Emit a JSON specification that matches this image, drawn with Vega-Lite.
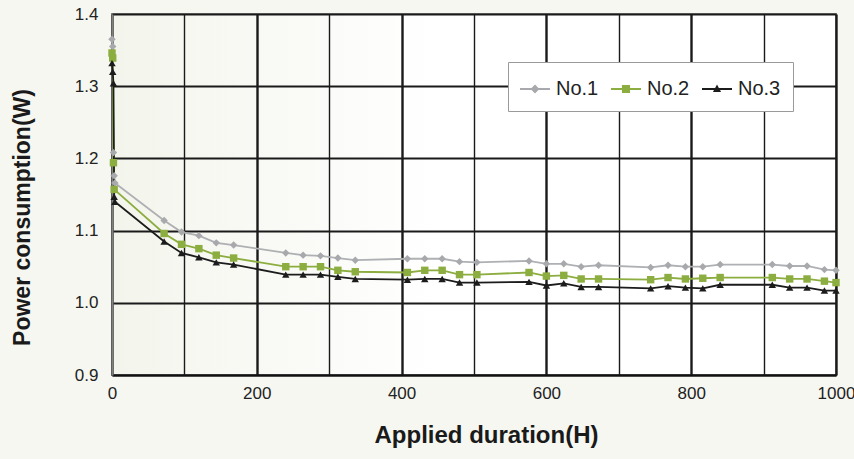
{
  "$schema": "https://vega.github.io/schema/vega-lite/v6.json",
  "width": 724,
  "height": 361,
  "autosize": "none",
  "padding": {"left": 112, "top": 14, "right": 18, "bottom": 84},
  "background": "#f6f7f1",
  "config": {
    "font": "Liberation Sans",
    "view": {
      "stroke": "#8a8a8a",
      "strokeWidth": 2,
      "fill": {"gradient": "linear", "x1": 0, "x2": 1, "y1": 0, "y2": 0,
        "stops": [{"offset": 0, "color": "#f3f5ec"}, {"offset": 0.45, "color": "#ffffff"}, {"offset": 1, "color": "#ffffff"}]}
    }
  },
  "data": {
    "values": [
      {"s": "No.1", "t": 0, "w": 1.365}, {"s": "No.1", "t": 1, "w": 1.355}, {"s": "No.1", "t": 2, "w": 1.208}, {"s": "No.1", "t": 3, "w": 1.176}, {"s": "No.1", "t": 4, "w": 1.166},
      {"s": "No.1", "t": 72, "w": 1.114}, {"s": "No.1", "t": 96, "w": 1.098}, {"s": "No.1", "t": 120, "w": 1.093}, {"s": "No.1", "t": 144, "w": 1.083}, {"s": "No.1", "t": 168, "w": 1.080},
      {"s": "No.1", "t": 240, "w": 1.069}, {"s": "No.1", "t": 264, "w": 1.066}, {"s": "No.1", "t": 288, "w": 1.065}, {"s": "No.1", "t": 312, "w": 1.062}, {"s": "No.1", "t": 336, "w": 1.059},
      {"s": "No.1", "t": 408, "w": 1.061}, {"s": "No.1", "t": 432, "w": 1.061}, {"s": "No.1", "t": 456, "w": 1.061}, {"s": "No.1", "t": 480, "w": 1.057}, {"s": "No.1", "t": 504, "w": 1.056},
      {"s": "No.1", "t": 576, "w": 1.058}, {"s": "No.1", "t": 600, "w": 1.054}, {"s": "No.1", "t": 624, "w": 1.054}, {"s": "No.1", "t": 648, "w": 1.050}, {"s": "No.1", "t": 672, "w": 1.052},
      {"s": "No.1", "t": 744, "w": 1.049}, {"s": "No.1", "t": 768, "w": 1.052}, {"s": "No.1", "t": 792, "w": 1.050}, {"s": "No.1", "t": 816, "w": 1.050}, {"s": "No.1", "t": 840, "w": 1.053},
      {"s": "No.1", "t": 912, "w": 1.053}, {"s": "No.1", "t": 936, "w": 1.051}, {"s": "No.1", "t": 960, "w": 1.051}, {"s": "No.1", "t": 984, "w": 1.046}, {"s": "No.1", "t": 1000, "w": 1.045},
      {"s": "No.2", "t": 0, "w": 1.346}, {"s": "No.2", "t": 1, "w": 1.339}, {"s": "No.2", "t": 2, "w": 1.194}, {"s": "No.2", "t": 3, "w": 1.157},
      {"s": "No.2", "t": 72, "w": 1.096}, {"s": "No.2", "t": 96, "w": 1.081}, {"s": "No.2", "t": 120, "w": 1.075}, {"s": "No.2", "t": 144, "w": 1.066}, {"s": "No.2", "t": 168, "w": 1.062},
      {"s": "No.2", "t": 240, "w": 1.050}, {"s": "No.2", "t": 264, "w": 1.050}, {"s": "No.2", "t": 288, "w": 1.050}, {"s": "No.2", "t": 312, "w": 1.045}, {"s": "No.2", "t": 336, "w": 1.043},
      {"s": "No.2", "t": 408, "w": 1.042}, {"s": "No.2", "t": 432, "w": 1.045}, {"s": "No.2", "t": 456, "w": 1.045}, {"s": "No.2", "t": 480, "w": 1.039}, {"s": "No.2", "t": 504, "w": 1.039},
      {"s": "No.2", "t": 576, "w": 1.042}, {"s": "No.2", "t": 600, "w": 1.037}, {"s": "No.2", "t": 624, "w": 1.038}, {"s": "No.2", "t": 648, "w": 1.033}, {"s": "No.2", "t": 672, "w": 1.033},
      {"s": "No.2", "t": 744, "w": 1.032}, {"s": "No.2", "t": 768, "w": 1.035}, {"s": "No.2", "t": 792, "w": 1.033}, {"s": "No.2", "t": 816, "w": 1.034}, {"s": "No.2", "t": 840, "w": 1.035},
      {"s": "No.2", "t": 912, "w": 1.035}, {"s": "No.2", "t": 936, "w": 1.033}, {"s": "No.2", "t": 960, "w": 1.033}, {"s": "No.2", "t": 984, "w": 1.030}, {"s": "No.2", "t": 1000, "w": 1.028},
      {"s": "No.3", "t": 0, "w": 1.332}, {"s": "No.3", "t": 1, "w": 1.320}, {"s": "No.3", "t": 2, "w": 1.304}, {"s": "No.3", "t": 3, "w": 1.147}, {"s": "No.3", "t": 4, "w": 1.140},
      {"s": "No.3", "t": 72, "w": 1.085}, {"s": "No.3", "t": 96, "w": 1.069}, {"s": "No.3", "t": 120, "w": 1.063}, {"s": "No.3", "t": 144, "w": 1.056}, {"s": "No.3", "t": 168, "w": 1.053},
      {"s": "No.3", "t": 240, "w": 1.039}, {"s": "No.3", "t": 264, "w": 1.039}, {"s": "No.3", "t": 288, "w": 1.039}, {"s": "No.3", "t": 312, "w": 1.036}, {"s": "No.3", "t": 336, "w": 1.033},
      {"s": "No.3", "t": 408, "w": 1.032}, {"s": "No.3", "t": 432, "w": 1.033}, {"s": "No.3", "t": 456, "w": 1.033}, {"s": "No.3", "t": 480, "w": 1.028}, {"s": "No.3", "t": 504, "w": 1.028},
      {"s": "No.3", "t": 576, "w": 1.029}, {"s": "No.3", "t": 600, "w": 1.024}, {"s": "No.3", "t": 624, "w": 1.027}, {"s": "No.3", "t": 648, "w": 1.022}, {"s": "No.3", "t": 672, "w": 1.022},
      {"s": "No.3", "t": 744, "w": 1.020}, {"s": "No.3", "t": 768, "w": 1.023}, {"s": "No.3", "t": 792, "w": 1.021}, {"s": "No.3", "t": 816, "w": 1.020}, {"s": "No.3", "t": 840, "w": 1.025},
      {"s": "No.3", "t": 912, "w": 1.025}, {"s": "No.3", "t": 936, "w": 1.021}, {"s": "No.3", "t": 960, "w": 1.021}, {"s": "No.3", "t": 984, "w": 1.017}, {"s": "No.3", "t": 1000, "w": 1.017}
    ]
  },
  "encoding": {
    "x": {
      "field": "t", "type": "quantitative",
      "scale": {"domain": [0, 1000], "nice": false, "zero": false},
      "axis": {
        "title": "Applied duration(H)",
        "values": [0, 100, 200, 300, 400, 500, 600, 700, 800, 900, 1000],
        "format": "d",
        "labelExpr": "datum.value % 200 === 0 ? datum.label : ''",
        "grid": true, "gridColor": "#1a1a1a",
        "gridWidth": {"condition": {"test": "datum.value % 200 === 0", "value": 2.4}, "value": 1.4},
        "gridOpacity": 1,
        "ticks": false,
        "domainColor": "#111111", "domainWidth": 2,
        "labelFontSize": 17, "labelColor": "#222222", "labelPadding": 10, "labelFlush": false,
        "titleFontSize": 24, "titleFontWeight": "bold", "titleColor": "#1a1a1a",
        "titleX": 374, "titlePadding": 22
      }
    },
    "y": {
      "field": "w", "type": "quantitative",
      "scale": {"domain": [0.9, 1.4], "nice": false, "zero": false},
      "axis": {
        "title": "Power consumption(W)",
        "values": [0.9, 1.0, 1.1, 1.2, 1.3, 1.4],
        "format": ".1f",
        "grid": true, "gridColor": "#1a1a1a", "gridWidth": 1.8, "gridOpacity": 1,
        "ticks": false,
        "domainColor": "#808080", "domainWidth": 2,
        "labelFontSize": 17, "labelColor": "#222222", "labelPadding": 14,
        "titleFontSize": 23, "titleFontWeight": "bold", "titleColor": "#1a1a1a",
        "titleAngle": -90, "titleX": -90, "titleY": 203, "titleAlign": "center", "titleBaseline": "middle"
      }
    }
  },
  "layer": [
    {
      "mark": {"type": "line", "strokeWidth": 1.8},
      "encoding": {
        "color": {"field": "s", "type": "nominal",
          "scale": {"domain": ["No.1", "No.2", "No.3"], "range": ["#aeb0b3", "#8cad3f", "#1c1c1c"]},
          "legend": null}
      }
    },
    {
      "mark": {"type": "point", "filled": true, "opacity": 1, "size": 55},
      "encoding": {
        "color": {"field": "s", "type": "nominal",
          "scale": {"domain": ["No.1", "No.2", "No.3"], "range": ["#a7a9ac", "#8cad3f", "#1c1c1c"]},
          "legend": null},
        "shape": {"field": "s", "type": "nominal",
          "scale": {"domain": ["No.1", "No.2", "No.3"], "range": ["diamond", "square", "triangle-up"]},
          "legend": null}
      }
    },
    {
      "transform": [{"filter": "datum.w > 100"}],
      "mark": {"type": "point", "filled": true, "opacity": 1},
      "encoding": {
        "color": {"field": "s", "type": "nominal",
          "scale": {"domain": ["No.1", "No.2", "No.3"], "range": ["#a7a9ac", "#8cad3f", "#1c1c1c"]},
          "legend": {
            "title": null, "orient": "none", "direction": "horizontal",
            "legendX": 396, "legendY": 48,
            "fillColor": "#ffffff", "strokeColor": "#9a9a9a", "padding": 12,
            "symbolSize": 900, "symbolStrokeWidth": 0,
            "labelFontSize": 20, "labelColor": "#222222", "labelOffset": 6,
            "columnPadding": 12
          }},
        "shape": {"field": "s", "type": "nominal",
          "scale": {"domain": ["No.1", "No.2", "No.3"], "range": [
            "M-1,-0.07L-0.23,-0.07L0,-0.3L0.23,-0.07L1,-0.07L1,0.07L0.23,0.07L0,0.3L-0.23,0.07L-1,0.07Z",
            "M-1,-0.07L-0.27,-0.07L-0.27,-0.27L0.27,-0.27L0.27,-0.07L1,-0.07L1,0.07L0.27,0.07L0.27,0.27L-0.27,0.27L-0.27,0.07L-1,0.07Z",
            "M-1,-0.07L-0.124,-0.07L0,-0.3L0.124,-0.07L1,-0.07L1,0.07L0.2,0.07L0.27,0.2L-0.27,0.2L-0.2,0.07L-1,0.07Z"
          ]},
          "legend": {
            "title": null, "orient": "none", "direction": "horizontal",
            "legendX": 396, "legendY": 48,
            "fillColor": "#ffffff", "strokeColor": "#9a9a9a", "padding": 12,
            "symbolSize": 900, "symbolStrokeWidth": 0,
            "labelFontSize": 20, "labelColor": "#222222", "labelOffset": 6,
            "columnPadding": 12
          }}
      }
    }
  ],
  "resolve": {"scale": {"color": "independent", "shape": "independent"}}
}
